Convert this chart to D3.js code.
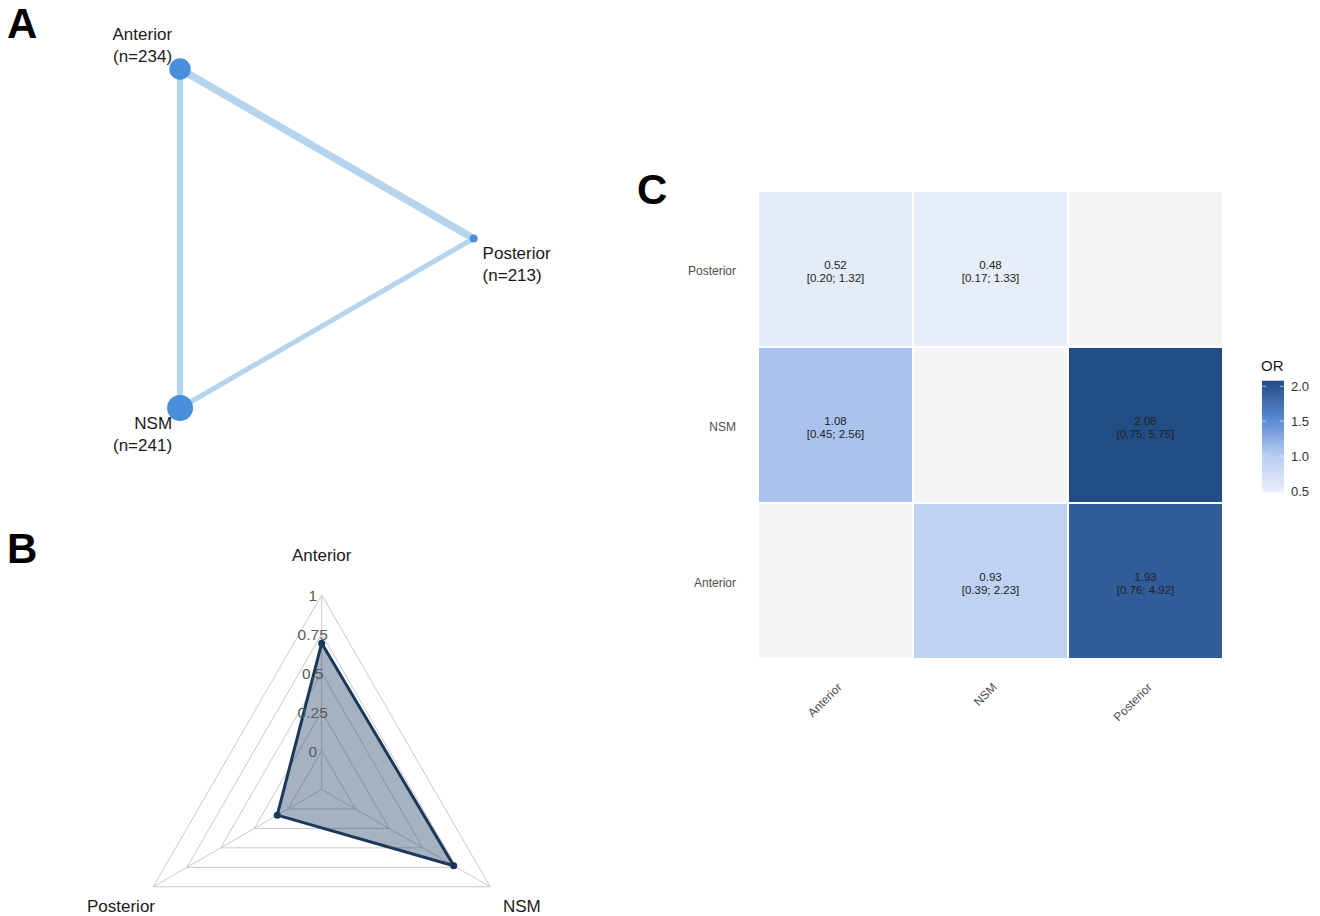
<!DOCTYPE html>
<html>
<head>
<meta charset="utf-8">
<script src="https://cdn.jsdelivr.net/npm/d3@7"></script>
<style>
  html, body { margin: 0; padding: 0; background: #ffffff; }
  svg { display: block; font-family: "Liberation Sans", Arial, sans-serif; }
</style>
</head>
<body>
<svg id="fig" width="1320" height="916"></svg>
<script>
// ---- Network (panel A) ----
const netNodes = ["Anterior", "Posterior", "NSM"];
const netSizes = [234, 213, 241];
const netEdgeFrom = ["Anterior", "Anterior", "NSM"];
const netEdgeTo = ["Posterior", "NSM", "Posterior"];
const netEdgeStudies = [5, 4, 3];

// ---- SUCRA radar (panel B) ----
const radarAxes = ["Anterior", "NSM", "Posterior"];
const radarValues = [0.69, 0.73, 0.08];
const radarTicks = [0, 0.25, 0.5, 0.75, 1];
const radarTickLabels = ["0", "0.25", "0.5", "0.75", "1"];

// ---- League heatmap of odds ratios (panel C) ----
const treatments = ["Anterior", "NSM", "Posterior"];
const cellCol = ["Anterior", "NSM", "Anterior", "Posterior", "NSM", "Posterior"];
const cellRow = ["Posterior", "Posterior", "NSM", "NSM", "Anterior", "Anterior"];
const orEst = [0.52, 0.48, 1.08, 2.08, 0.93, 1.93];
const orLow = [0.20, 0.17, 0.45, 0.75, 0.39, 0.76];
const orHigh = [1.32, 1.33, 2.56, 5.75, 2.23, 4.92];
const legendTicks = [0.5, 1.0, 1.5, 2.0];

const svg = d3.select("#fig");

// panel letters
svg.append("g").selectAll("text")
  .data([["A", 7, 38], ["B", 7, 563], ["C", 637, 204]])
  .join("text")
  .attr("x", d => d[1]).attr("y", d => d[2])
  .attr("font-size", 42).attr("font-weight", "bold").attr("fill", "#000")
  .text(d => d[0]);

// ================= Panel A =================
{
  const cx = 277.9, cy = 238.5, rad = 195.7;
  const angleOf = { "Posterior": 0, "Anterior": -120, "NSM": 120 };
  const pos = {};
  netNodes.forEach(n => {
    const a = angleOf[n] * Math.PI / 180;
    pos[n] = [cx + rad * Math.cos(a), cy + rad * Math.sin(a)];
  });
  const rScale = d3.scaleLinear().domain(d3.extent(netSizes)).range([4, 13]);
  const wScale = d3.scaleLinear().domain(d3.extent(netEdgeStudies)).range([5, 7.5]);
  const g = svg.append("g");
  g.selectAll("line").data(netEdgeStudies).join("line")
    .attr("x1", (d, i) => pos[netEdgeFrom[i]][0]).attr("y1", (d, i) => pos[netEdgeFrom[i]][1])
    .attr("x2", (d, i) => pos[netEdgeTo[i]][0]).attr("y2", (d, i) => pos[netEdgeTo[i]][1])
    .attr("stroke", "#b5d4ee").attr("stroke-width", d => wScale(d));
  g.selectAll("circle").data(netNodes).join("circle")
    .attr("cx", n => pos[n][0]).attr("cy", n => pos[n][1])
    .attr("r", (n, i) => rScale(netSizes[i]))
    .attr("fill", "#4a8fd9");
  // labels
  const lab = {
    "Anterior": { dx: -8, dy: -29, anchor: "end" },
    "NSM": { dx: -8, dy: 21, anchor: "end" },
    "Posterior": { dx: 9, dy: 20, anchor: "start" }
  };
  netNodes.forEach((n, i) => {
    const L = lab[n];
    const t = g.append("text")
      .attr("x", pos[n][0] + L.dx).attr("y", pos[n][1] + L.dy)
      .attr("text-anchor", L.anchor).attr("font-size", 17).attr("fill", "#1a1a1a");
    t.append("tspan").attr("x", pos[n][0] + L.dx).text(n);
    t.append("tspan").attr("x", pos[n][0] + L.dx).attr("dy", 22).text("(n=" + netSizes[i] + ")");
  });
}

// ================= Panel B =================
{
  const cx = 321.7, cy = 789.5, R = 194.5;
  const ang = { "Anterior": -90, "NSM": 30, "Posterior": 150 };
  const rScale = d3.scaleLinear().domain([0, 1]).range([0.2 * R, R]);
  const pt = (axis, r) => {
    const a = ang[axis] * Math.PI / 180;
    return [cx + r * Math.cos(a), cy + r * Math.sin(a)];
  };
  const g = svg.append("g");
  // grid triangles
  g.selectAll("polygon.grid").data(radarTicks).join("polygon")
    .attr("class", "grid")
    .attr("points", t => radarAxes.map(a => pt(a, rScale(t)).join(",")).join(" "))
    .attr("fill", "none").attr("stroke", "#c8c8c8").attr("stroke-width", 1);
  // spokes
  g.selectAll("line.spoke").data(radarAxes).join("line")
    .attr("class", "spoke")
    .attr("x1", cx).attr("y1", cy)
    .attr("x2", a => pt(a, R)[0]).attr("y2", a => pt(a, R)[1])
    .attr("stroke", "#c8c8c8").attr("stroke-width", 1);
  // data polygon
  const poly = radarAxes.map((a, i) => pt(a, rScale(radarValues[i])));
  g.append("polygon")
    .attr("points", poly.map(p => p.join(",")).join(" "))
    .attr("fill", "rgba(40,72,110,0.42)")
    .attr("stroke", "#1c3858").attr("stroke-width", 3).attr("stroke-linejoin", "round");
  g.selectAll("circle").data(poly).join("circle")
    .attr("cx", p => p[0]).attr("cy", p => p[1]).attr("r", 3.5).attr("fill", "#1c3858");
  // tick labels
  g.selectAll("text.tick").data(radarTicks).join("text")
    .attr("class", "tick")
    .attr("x", cx - 9).attr("y", t => cy - rScale(t) + 6)
    .attr("text-anchor", "middle").attr("font-size", 15.5).attr("fill", "#5a5a5a")
    .text((t, i) => radarTickLabels[i]);
  // axis labels
  const labPos = {
    "Anterior": { x: cx, y: 561, anchor: "middle" },
    "Posterior": { x: 155, y: 912, anchor: "end" },
    "NSM": { x: 503, y: 912, anchor: "start" }
  };
  g.selectAll("text.axis").data(radarAxes).join("text")
    .attr("class", "axis")
    .attr("x", a => labPos[a].x).attr("y", a => labPos[a].y)
    .attr("text-anchor", a => labPos[a].anchor)
    .attr("font-size", 17).attr("fill", "#1a1a1a")
    .text(a => a);
}

// ================= Panel C =================
{
  const x = d3.scaleBand().domain(treatments).range([758, 1223]);
  const y = d3.scaleBand().domain(treatments.slice().reverse()).range([191, 659]);
  const color = d3.scaleLinear()
    .domain([0.48, 1.0, 1.5, 2.08])
    .range(["#e8eef9", "#b8cef3", "#5c8cd6", "#214d85"])
    .clamp(true);
  const g = svg.append("g");
  // all cells: missing comparisons in light grey
  const allCells = [];
  treatments.forEach(r => treatments.forEach(c => allCells.push([c, r])));
  g.selectAll("rect.na").data(allCells).join("rect")
    .attr("class", "na")
    .attr("x", d => x(d[0])).attr("y", d => y(d[1]))
    .attr("width", x.bandwidth()).attr("height", y.bandwidth())
    .attr("fill", "#f5f5f5").attr("stroke", "#ffffff").attr("stroke-width", 2);
  g.selectAll("rect.val").data(orEst).join("rect")
    .attr("class", "val")
    .attr("x", (d, i) => x(cellCol[i])).attr("y", (d, i) => y(cellRow[i]))
    .attr("width", x.bandwidth()).attr("height", y.bandwidth())
    .attr("fill", d => color(d)).attr("stroke", "#ffffff").attr("stroke-width", 2);
  const f2 = d3.format(".2f");
  const tg = g.selectAll("text.val").data(orEst).join("text")
    .attr("class", "val")
    .attr("text-anchor", "middle").attr("font-size", 11.5).attr("fill", "#222");
  tg.append("tspan")
    .attr("x", (d, i) => x(cellCol[i]) + x.bandwidth() / 2)
    .attr("y", (d, i) => y(cellRow[i]) + y.bandwidth() / 2 - 0.5)
    .text(d => f2(d));
  tg.append("tspan")
    .attr("x", (d, i) => x(cellCol[i]) + x.bandwidth() / 2)
    .attr("y", (d, i) => y(cellRow[i]) + y.bandwidth() / 2 + 12.5)
    .text((d, i) => "[" + f2(orLow[i]) + "; " + f2(orHigh[i]) + "]");
  // y axis labels
  g.selectAll("text.ylab").data(treatments).join("text")
    .attr("class", "ylab")
    .attr("x", 736).attr("y", t => y(t) + y.bandwidth() / 2 + 5.5)
    .attr("text-anchor", "end").attr("font-size", 12).attr("fill", "#4d4d4d")
    .text(t => t);
  // x axis labels
  g.selectAll("text.xlab").data(treatments).join("text")
    .attr("class", "xlab")
    .attr("transform", t => `translate(${x(t) + x.bandwidth() / 2 + 7},${688}) rotate(-45)`)
    .attr("text-anchor", "end").attr("font-size", 12).attr("fill", "#4d4d4d")
    .text(t => t);

  // legend
  const lg = svg.append("g");
  const ly = d3.scaleLinear().domain([0.48, 2.08]).range([492.3, 380.7]);
  const defs = svg.append("defs");
  const grad = defs.append("linearGradient").attr("id", "orGrad")
    .attr("x1", 0).attr("y1", 1).attr("x2", 0).attr("y2", 0);
  d3.range(0, 21).forEach(k => {
    const v = 0.48 + (2.08 - 0.48) * k / 20;
    grad.append("stop").attr("offset", k / 20).attr("stop-color", color(v));
  });
  lg.append("rect").attr("x", 1262).attr("y", ly(2.08))
    .attr("width", 22).attr("height", ly(0.48) - ly(2.08))
    .attr("fill", "url(#orGrad)");
  lg.selectAll("line.tk").data(legendTicks).join("line")
    .attr("class", "tk")
    .attr("x1", 1262).attr("x2", 1266).attr("y1", d => ly(d)).attr("y2", d => ly(d))
    .attr("stroke", "#ffffff").attr("stroke-opacity", 0.6);
  lg.selectAll("line.tk2").data(legendTicks).join("line")
    .attr("class", "tk2")
    .attr("x1", 1280).attr("x2", 1284).attr("y1", d => ly(d)).attr("y2", d => ly(d))
    .attr("stroke", "#ffffff").attr("stroke-opacity", 0.6);
  lg.selectAll("text.tl").data(legendTicks).join("text")
    .attr("class", "tl")
    .attr("x", 1291).attr("y", d => ly(d) + 5)
    .attr("font-size", 13).attr("fill", "#333")
    .text(d => d.toFixed(1));
  lg.append("text").attr("x", 1261).attr("y", 371)
    .attr("font-size", 15).attr("fill", "#1a1a1a").text("OR");
}
</script>
</body>
</html>
